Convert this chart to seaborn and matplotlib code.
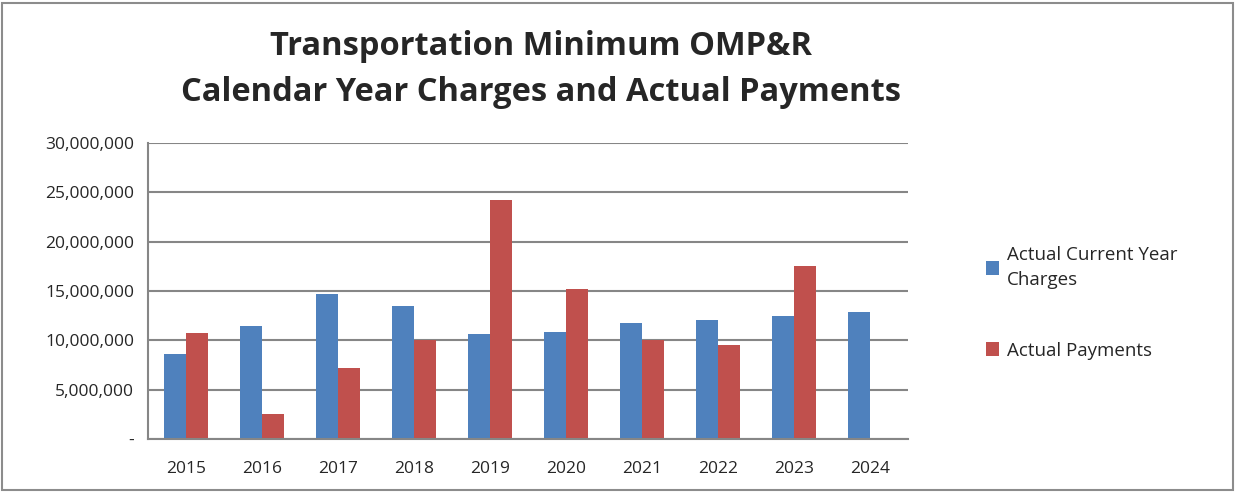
import matplotlib
matplotlib.use("Agg")
import matplotlib.pyplot as plt
import matplotlib.ticker as mticker
from matplotlib.patches import Rectangle, Patch
import seaborn as sns
import pandas as pd

years = ["2015", "2016", "2017", "2018", "2019", "2020", "2021", "2022", "2023", "2024"]
charges = [8610000, 11410000, 14690000, 13440000, 10670000, 10870000, 11750000, 12060000, 12460000, 12900000]
payments = [10770000, 2530000, 7220000, 9990000, 24210000, 15230000, 9990000, 9480000, 17490000, None]
series_names = ["Actual Current Year\nCharges", "Actual Payments"]
colors = ["#4F81BD", "#C0504D"]

df = pd.DataFrame({
    "Year": years * 2,
    "Value": charges + payments,
    "Series": [series_names[0]] * len(years) + [series_names[1]] * len(years),
})

sns.set_style("white")
plt.rcParams["font.family"] = ["Open Sans", "DejaVu Sans"]

fig = plt.figure(figsize=(12.38, 4.93), dpi=100)
ax = fig.add_axes([0.1195, 0.1095, 0.6139, 0.6004])

sns.barplot(data=df, x="Year", y="Value", hue="Series", palette=colors,
            width=0.57, saturation=1, ax=ax, legend=False, edgecolor="none")

ax.set_ylim(0, 30000000)
ax.set_xlim(-0.5, len(years) - 0.5)
ax.yaxis.set_major_locator(mticker.MultipleLocator(5000000))
ax.yaxis.set_major_formatter(mticker.FuncFormatter(lambda v, p: "-" if v == 0 else f"{v:,.0f}"))
ax.grid(axis="y", color="#868686", linewidth=1.5)
ax.set_axisbelow(True)
ax.set_xlabel("")
ax.set_ylabel("")

for s in ["top", "right"]:
    ax.spines[s].set_visible(False)
for s in ["left", "bottom"]:
    ax.spines[s].set_color("#868686")
    ax.spines[s].set_linewidth(1.5)

# x ticks sit between categories, labels in the middle
ax.set_xticks([i - 0.5 for i in range(len(years) + 1)], minor=False)
ax.set_xticklabels([])
ax.set_xticks(range(len(years)), minor=True)
ax.set_xticklabels(years, minor=True)
ax.tick_params(axis="x", which="major", length=5, width=1.5, color="#868686", direction="out")
ax.tick_params(axis="x", which="minor", length=0, labelsize=12.5, pad=16)
ax.tick_params(axis="y", length=5, width=1.5, color="#868686", direction="out", labelsize=12.5, pad=5)

fig.text(0.437, 0.905, "Transportation Minimum OMP&R", ha="center", va="center",
         fontsize=23.5, fontweight="bold")
fig.text(0.437, 0.812, "Calendar Year Charges and Actual Payments", ha="center", va="center",
         fontsize=23.5, fontweight="bold")

handles = [Patch(facecolor=c, edgecolor="none") for c in colors]
leg = fig.legend(handles, series_names, loc="upper left", bbox_to_anchor=(0.783, 0.535),
                 frameon=False, fontsize=13.5, handlelength=0.7, handleheight=0.7,
                 handletextpad=0.4, labelspacing=2.8)
for t in leg.get_texts():
    t.set_linespacing(1.5)

fig.patches.append(Rectangle((0.002, 0.006), 0.994, 0.988, transform=fig.transFigure,
                             fill=False, edgecolor="#8c8c8c", linewidth=1.5))

fig.savefig("out.png", dpi=100)
